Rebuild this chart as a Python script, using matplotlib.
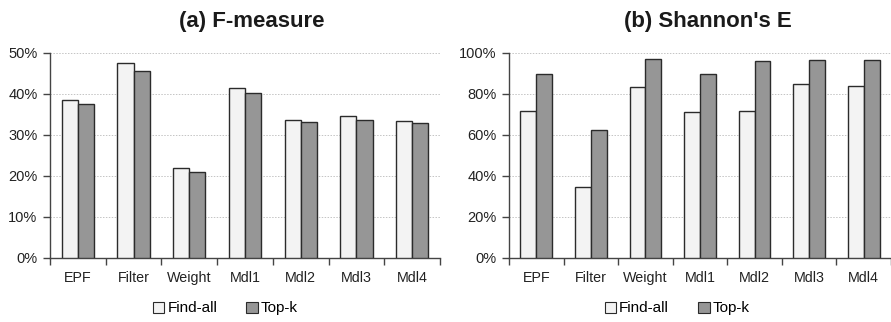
import matplotlib
matplotlib.use("Agg")
import matplotlib.pyplot as plt
from matplotlib.patches import Patch
from matplotlib.ticker import FixedLocator, PercentFormatter

plt.rcParams['font.family'] = ['Liberation Sans', 'DejaVu Sans']

categories = ["EPF", "Filter", "Weight", "Mdl1", "Mdl2", "Mdl3", "Mdl4"]
series_names = ["Find-all", "Top-k"]

fmeasure_find_all = [38.4, 47.6, 22.0, 41.4, 33.5, 34.6, 33.4]
fmeasure_top_k = [37.6, 45.5, 21.0, 40.2, 33.0, 33.6, 32.8]

shannon_find_all = [71.8, 34.7, 83.2, 71.2, 71.7, 84.8, 84.0]
shannon_top_k = [89.4, 62.2, 96.7, 89.4, 95.9, 96.3, 96.3]

fill_colors = ["#f3f3f3", "#969696"]
edge_color = "#2b2b2b"

fig = plt.figure(figsize=(8.91, 3.22), dpi=100)

panels = [
    dict(rect=[0.0561, 0.1997, 0.4377, 0.6366], vals=(fmeasure_find_all, fmeasure_top_k),
         ymax=50, step=10, title="(a) F-measure", title_x=0.282, legend_x=0.253),
    dict(rect=[0.5713, 0.1997, 0.4287, 0.6366], vals=(shannon_find_all, shannon_top_k),
         ymax=100, step=20, title="(b) Shannon's E", title_x=0.795, legend_x=0.760),
]

width = 0.29
x = list(range(len(categories)))

for p in panels:
    ax = fig.add_axes(p["rect"])
    for k, (vals, col) in enumerate(zip(p["vals"], fill_colors)):
        off = (k - 0.5) * width
        ax.bar([xi + off for xi in x], vals, width=width, color=col,
               edgecolor=edge_color, linewidth=1.0, zorder=3)
    ax.set_xlim(-0.5, len(categories) - 0.5)
    ax.set_ylim(0, p["ymax"])
    ax.set_yticks(range(0, p["ymax"] + 1, p["step"]))
    ax.yaxis.set_major_formatter(PercentFormatter(decimals=0))
    ax.set_xticks(x)
    ax.set_xticklabels(categories)
    ax.xaxis.set_minor_locator(FixedLocator([i - 0.5 for i in range(len(categories) + 1)]))
    ax.tick_params(axis="x", which="major", length=0, pad=9.5, labelsize=10.3, colors="#222222")
    ax.tick_params(axis="x", which="minor", length=5, width=1.0, color="#444444", direction="out")
    ax.tick_params(axis="y", length=5, width=1.0, color="#444444", labelsize=10.5, pad=4,
                   labelcolor="#222222")
    ax.grid(axis="y", color="#c4c4c4", linestyle=(0, (1.5, 1.5)), linewidth=0.7, zorder=0)
    for s in ["top", "right"]:
        ax.spines[s].set_visible(False)
    for s in ["left", "bottom"]:
        ax.spines[s].set_color("#444444")
        ax.spines[s].set_linewidth(1.0)

    fig.text(p["title_x"], 0.934, p["title"], ha="center", va="center",
             fontsize=16, fontweight="bold", color="#1a1a1a")

    handles = [Patch(facecolor=c, edgecolor=edge_color, linewidth=0.8) for c in fill_colors]
    fig.legend(handles, series_names, loc="center", bbox_to_anchor=(p["legend_x"], 0.042),
               ncol=2, frameon=False, fontsize=11, handlelength=0.75, handleheight=0.75,
               handletextpad=0.2, columnspacing=1.9)

fig.savefig("out.png", dpi=100)
